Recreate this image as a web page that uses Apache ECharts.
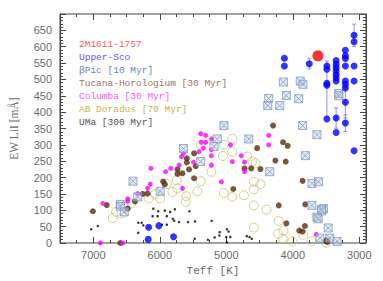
<!DOCTYPE html>
<html><head><meta charset="utf-8">
<script src="https://cdn.jsdelivr.net/npm/echarts@6/dist/echarts.min.js"></script>
<style>html,body{margin:0;padding:0;background:#fff}#c{width:383px;height:281px}</style>
</head><body><div id="c"></div>
<script>
// ---- data (Teff [K], EW LiI [mÅ]) ----
const xMajorTicks = [3000, 4000, 5000, 6000, 7000];
const xMinorTicks = [3000,3250,3500,3750,4000,4250,4500,4750,5000,5250,5500,5750,6000,6250,6500,6750,7000,7250,7500];
const legendLabels = ['2M1611-1757','Upper-Sco','βPic [10 Myr]','Tucana-Horologium [30 Myr]','Columba [30 Myr]','AB Doradus [70 Myr]','UMa [300 Myr]'];

const target2M1611 = [[3623,572]];
const upperSco = [
 [4127,565],[4127,541],[3753,548],[3079,635],[3079,615],[3079,541],[3079,495],
 [3210,589],[3210,572],[3210,564],[3210,541],[3210,495],[3210,485],[3210,474],[3210,430],[3210,367],
 [3349,558],[3349,546],[3349,536],[3349,526],[3349,515],[3349,505],[3349,495],[3349,382],[3349,338],
 [3488,541],[3488,531],[3488,488],[3488,482],[3488,379],
 [3079,282],
 [6168,48],[6014,53],[6174,11],[5793,19]
];
const upperScoErr = [
 [3079,600,669],[3753,532,565],[3349,351,413],[3210,341,392],[3210,382,478],[3488,387,556]
];
const betaPic = [
 [5644,289],[6403,189],[6332,141],[5994,158],[6593,118],[6593,112],[6533,95],[5036,359],
 [4362,442],[4377,420],[4197,420],[4142,492],[4097,451],[5135,318],[4662,318],[5185,295],
 [5385,249],[4347,218],[3888,495],[3848,485],[3913,441],[3309,457],[3309,450],[3853,359],
 [3638,331],[3813,267],[3713,182],[3614,187],[3713,115],[3539,105],[3564,98],[3638,79],
 [3570,103],[3619,74],[3469,46],[3593,15],[3444,15],[3334,5]
];
const tucHor = [
 [7006,97],[6797,116],[6593,0],[6482,105],[6373,127],[6257,150],[6183,151],[5949,188],
 [5924,179],[5734,225],[5734,211],[5594,259],[5594,246],[5560,225],[5485,274],[5460,235],
 [5485,198],[5659,213],[4895,165],[4726,228],[4626,228],[4487,226],[4536,290],[4297,359],
 [4147,308],[4078,297],[4262,252],[4107,249],[4212,115],[4097,60],[3853,190],[3813,118],
 [3903,38],[3853,35],[3818,52],[3494,8],[3503,6],[3480,3]
];
const columba = [
 [6857,121],[6892,0],[6557,0],[6482,135],[6482,128],[6332,151],[6183,167],[6144,180],
 [6133,228],[5913,218],[5834,228],[5709,238],[5674,264],[5644,274],[5659,167],[5385,334],
 [5310,329],[5220,318],[5375,308],[5310,308],[5345,290],[5410,279],[5225,285],[5225,267],
 [5494,247],[5225,238],[4936,300],[4910,249],[4775,267],[4726,247],[4726,218],[4362,329],
 [4362,300],[5075,187],[3648,26]
];
const abDor = [
 [6707,76],[6657,95],[6572,90],[6523,108],[6433,121],[6168,136],[5994,136],[6069,149],
 [5894,180],[5809,156],[5734,167],[5744,192],[5604,143],[5609,126],[4910,318],[5036,300],
 [5051,266],[4910,279],[5385,300],[4686,264],[4611,249],[4561,244],[5385,189],[5225,218],
 [5434,158],[5036,153],[4910,141],[4736,146],[4586,187],[4486,180],[4586,164],[4586,115],
 [4396,102],[4213,67],[4586,47],[4142,38],[4217,28],[4152,13],[4008,5],[3843,25],[3719,5],[3500,1]
];
const uma = [
 [6097,105],[6024,97],[5924,99],[5844,95],[5774,103],[5554,97],[6108,82],[6033,82],
 [5894,82],[5804,74],[5784,68],[5710,64],[5575,64],[5470,66],[5220,68],[6323,62],
 [6273,62],[6248,54],[6323,31],[5969,56],[5894,56],[7031,42],[6931,52],[5475,13],
 [5276,10],[5175,17],[5105,23],[5100,33],[4991,42],[4966,35],[5000,18],[4940,18],
 [4991,2],[4692,21],[4651,18],[4617,13]
];

// ---- chart ----
const chart = echarts.init(document.getElementById('c'), null, {renderer:'svg'});
const axisCol = '#444';
const labCol = '#6a6a6a';
const fmt = v => String(v);
const baseX = {type:'value', min:2900, max:7500, inverse:true, splitLine:{show:false}, axisLine:{show:false}};
const baseY = {type:'value', min:0, max:700, interval:50, splitLine:{show:false}};
const boxX = 'path://M0,0L10,0L10,10L0,10ZM0,0L10,10M10,0L0,10';

const legendColors = ['#ff5a5a','#5a5aff','#6a88b0','#9a7660','#ff55ff','#c0b850','#505050'];

chart.setOption({
  animation:false,
  grid:{left:59, right:17, top:14, bottom:38, show:true, borderColor:axisCol, borderWidth:1},
  xAxis:[
    Object.assign({}, baseX, {position:'bottom', name:'Teff [K]', nameLocation:'middle', nameGap:22,
      nameTextStyle:{fontFamily:'Liberation Mono', fontSize:11, color:labCol},
      axisTick:{show:true, inside:true, length:6, customValues:xMajorTicks, lineStyle:{color:axisCol}},
      axisLabel:{customValues:xMajorTicks, formatter:fmt, color:labCol, fontSize:11, fontFamily:'Liberation Sans', margin:6}}),
    Object.assign({}, baseX, {position:'bottom',
      axisTick:{show:true, inside:true, length:3, customValues:xMinorTicks, lineStyle:{color:axisCol}},
      axisLabel:{show:false}}),
    Object.assign({}, baseX, {position:'top',
      axisTick:{show:true, inside:true, length:6, customValues:xMajorTicks, lineStyle:{color:axisCol}},
      axisLabel:{show:false}}),
    Object.assign({}, baseX, {position:'top',
      axisTick:{show:true, inside:true, length:3, customValues:xMinorTicks, lineStyle:{color:axisCol}},
      axisLabel:{show:false}})
  ],
  yAxis:[
    Object.assign({}, baseY, {position:'left', name:'EW LiI [mÅ]', nameLocation:'middle', nameGap:40,
      nameTextStyle:{fontFamily:'Liberation Serif', fontSize:11.5, color:labCol},
      axisLine:{show:true, lineStyle:{color:axisCol}},
      axisTick:{show:true, inside:true, length:6, lineStyle:{color:axisCol}},
      minorTick:{show:true, splitNumber:5, length:3, lineStyle:{color:axisCol}},
      axisLabel:{color:labCol, fontSize:11, fontFamily:'Liberation Sans', margin:8, showMaxLabel:false, formatter:fmt}}),
    Object.assign({}, baseY, {position:'right',
      axisLine:{show:true, lineStyle:{color:axisCol}},
      axisTick:{show:true, inside:true, length:6, lineStyle:{color:axisCol}},
      minorTick:{show:true, splitNumber:5, length:3, lineStyle:{color:axisCol}},
      axisLabel:{show:false}})
  ],
  graphic: legendLabels.map((t,i)=>({type:'text', left:79, top:39 + i*13.1,
     style:{text:t, fill:legendColors[i], fontFamily:'Liberation Mono', fontSize:9.5, fontWeight:'normal'}})),
  series:[
    {name:legendLabels[6], type:'scatter', data:uma, symbol:'circle', symbolSize:2.5,
     itemStyle:{color:'#000'}},
    {name:legendLabels[5], type:'scatter', data:abDor, symbol:'circle', symbolSize:9,
     itemStyle:{color:'rgba(0,0,0,0)', borderColor:'#c8c270', borderWidth:1}},
    {name:legendLabels[3], type:'scatter', data:tucHor, symbol:'circle', symbolSize:6,
     itemStyle:{color:'#5a2d0c'}},
    {name:legendLabels[4], type:'scatter', data:columba, symbol:'circle', symbolSize:5,
     itemStyle:{color:'#ff00ff'}},
    {name:legendLabels[2], type:'scatter', data:betaPic, symbol:boxX, symbolSize:8,
     itemStyle:{color:'rgba(200,212,230,0.6)', borderColor:'#7f9cc4', borderWidth:1}},
    {name:'Upper-Sco errors', type:'custom', data:upperScoErr,
     renderItem:(params, api)=>{
       const p1 = api.coord([api.value(0), api.value(1)]);
       const p2 = api.coord([api.value(0), api.value(2)]);
       const st = {stroke:'#8c8cff', lineWidth:1};
       return {type:'group', children:[
         {type:'line', shape:{x1:p1[0],y1:p1[1],x2:p2[0],y2:p2[1]}, style:st},
         {type:'line', shape:{x1:p1[0]-2,y1:p1[1],x2:p1[0]+2,y2:p1[1]}, style:st},
         {type:'line', shape:{x1:p2[0]-2,y1:p2[1],x2:p2[0]+2,y2:p2[1]}, style:st}
       ]};
     }},
    {name:legendLabels[1], type:'scatter', data:upperSco, symbol:'circle', symbolSize:7,
     itemStyle:{color:'#0000ff'}},
    {name:legendLabels[0], type:'scatter', data:target2M1611, symbol:'circle', symbolSize:11,
     itemStyle:{color:'#ff0000'}}
  ]
});
</script></body></html>
